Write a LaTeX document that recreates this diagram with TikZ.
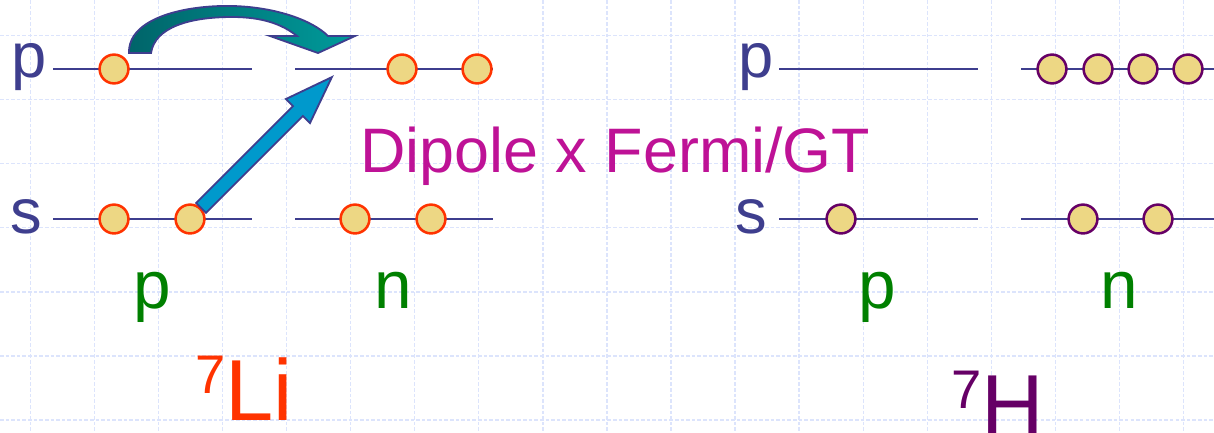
\documentclass[tikz,border=0pt]{standalone}
\usepackage{fontspec}
\setmainfont{Liberation Sans}
\usetikzlibrary{positioning,calc}
\definecolor{levelblue}{RGB}{62,62,142}
\definecolor{gridblue}{RGB}{220,228,252}
\definecolor{orbfill}{RGB}{237,215,132}
\definecolor{lired}{RGB}{255,51,0}
\definecolor{hpurple}{RGB}{102,0,102}
\definecolor{nucgreen}{RGB}{0,128,0}
\definecolor{dipmag}{RGB}{190,18,150}
\definecolor{arrblue}{RGB}{0,153,204}
\definecolor{tealdark}{RGB}{0,100,105}
\definecolor{teallight}{RGB}{0,155,155}

\begin{document}
\begin{tikzpicture}[x=0.025cm,y=0.025cm,
    gridline/.style={gridblue,line width=0.9pt,dash pattern=on 2.5pt off 1.5pt},
    level/.style={levelblue,line width=1.9pt},
    nucleon/.style={circle,draw,fill=orbfill,line width=1.8pt,minimum size=0.72cm,inner sep=0pt},
    shell/.style={levelblue,inner sep=0pt,anchor=base west,font={\fontsize{45}{54}\selectfont}},
    kind/.style={nucgreen,inner sep=0pt,anchor=base west,font={\fontsize{48}{58}\selectfont}},
    fatarrow/.style={draw=levelblue,line width=1.3pt,fill=arrblue,line join=miter},
    hop/.style={draw=levelblue,line width=1.3pt,left color=tealdark,right color=teallight}]

\useasboundingbox (0,0) rectangle (1214,-433);

% background grid
\foreach \i in {0,...,18}
  \draw[gridline] (30.5+64.05*\i,0) -- (30.5+64.05*\i,-433);
\foreach \j in {0,...,6}
  \draw[gridline] (0,-35.5-64.1*\j) -- (1214,-35.5-64.1*\j);

% 7Li levels
\node[shell] (lishp) at (11,-77) {p};
\node[shell] (lishs) at (10,-233) {s};
\draw[level] (53,-69) -- (252,-69);
\draw[level] (295,-69) -- (493,-69);
\draw[level] (53,-219) -- (252,-219);
\draw[level] (295,-219) -- (493,-219);

\node[nucleon,draw=lired] (lipp1) at (114,-69) {};
\node[nucleon,draw=lired] (lipn1) at (402,-69) {};
\node[nucleon,draw=lired] (lipn2) at (477,-69) {};
\node[nucleon,draw=lired] (lisp1) at (114,-219) {};
\node[nucleon,draw=lired] (lisp2) at (190,-219) {};
\node[nucleon,draw=lired] (lisn1) at (355,-219) {};
\node[nucleon,draw=lired] (lisn2) at (431,-219) {};

\node[kind] (lip) at (133.5,-308) {p};
\node[kind] (lin) at (374.5,-308) {n};
\node[lired,inner sep=0pt,anchor=base west] (li) at (195,-420)
  {{\fontsize{38.7}{40}\selectfont\raisebox{19.2pt}{7}}{\fontsize{61.6}{70}\selectfont Li}};

% transitions
\draw[hop] (129,-53) .. controls (128,-18) and (185,-5) .. (232,-6)
  .. controls (275,-7) and (312,-20) .. (328,-36)
  -- (355,-36) -- (318,-53) -- (270,-36) -- (297,-36)
  .. controls (282,-24) and (262,-17) .. (232,-17)
  .. controls (190,-17) and (155,-27) .. (151,-53) -- cycle;
\begin{scope}[shift={(lisp2.45)},rotate=45]
  \draw[fatarrow] (0,-7) -- (137,-7) -- (137,-17) -- (185,0)
    -- (137,17) -- (137,7) -- (0,7) -- cycle;
\end{scope}
\node[dipmag,inner sep=0pt,anchor=base west,font={\fontsize{44.7}{54}\selectfont}]
  (dip) at (360,-172) {Dipole x Fermi/GT};

% 7H levels
\node[shell] (hshp) at (738,-77) {p};
\node[shell] (hshs) at (735,-233) {s};
\draw[level] (779,-69) -- (978,-69);
\draw[level] (1021,-69) -- (1219,-69);
\draw[level] (779,-219) -- (978,-219);
\draw[level] (1021,-219) -- (1219,-219);

\node[nucleon,draw=hpurple] (hpn1) at (1052,-69) {};
\node[nucleon,draw=hpurple] (hpn2) at (1098,-69) {};
\node[nucleon,draw=hpurple] (hpn3) at (1143,-69) {};
\node[nucleon,draw=hpurple] (hpn4) at (1188,-69) {};
\node[nucleon,draw=hpurple] (hsp1) at (841,-219) {};
\node[nucleon,draw=hpurple] (hsn1) at (1083,-219) {};
\node[nucleon,draw=hpurple] (hsn2) at (1158,-219) {};

\node[kind] (hp) at (858.5,-308) {p};
\node[kind] (hn) at (1100.5,-308) {n};
\node[hpurple,inner sep=0pt,anchor=base west] (h) at (951,-435)
  {{\fontsize{38.7}{40}\selectfont\raisebox{19.2pt}{7}}{\fontsize{61.6}{70}\selectfont H}};

\end{tikzpicture}
\end{document}
